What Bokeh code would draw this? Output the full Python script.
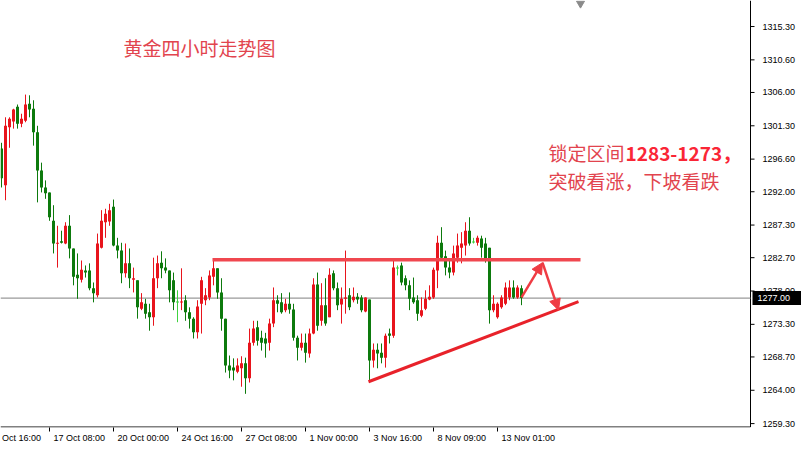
from bokeh.plotting import figure
from bokeh.models import (Range1d, FixedTicker, LinearAxis, Arrow, NormalHead,
                          ColumnDataSource)
from bokeh.core.properties import value
from bokeh.embed import file_html
from bokeh.resources import INLINE

# ---------------- data (XAUUSD, H4 bars) ----------------
opens = [
    1298.1, 1292.9, 1301.1, 1301.9, 1304.0, 1301.6, 1302.0, 1304.4, 1303.7, 1300.4,
    1295.0, 1292.6, 1291.9, 1287.9, 1284.7, 1285.0, 1284.7, 1287.2, 1284.0, 1280.3,
    1279.6, 1280.9, 1280.9, 1278.4, 1277.4, 1284.1, 1287.7, 1287.8, 1289.9, 1284.4,
    1283.7, 1280.5, 1281.9, 1279.6, 1279.5, 1275.5, 1276.2, 1275.0, 1274.3, 1279.8,
    1282.0, 1281.3, 1280.9, 1279.5, 1276.45, 1276.4, 1276.7, 1275.0, 1274.1, 1272.2,
    1276.2, 1276.7, 1277.1, 1280.0, 1281.2, 1277.8, 1274.1, 1267.5, 1267.2, 1266.6,
    1267.1, 1267.8, 1265.7, 1270.7, 1272.9, 1271.4, 1271.3, 1270.7, 1273.4, 1276.7,
    1276.4, 1275.3, 1276.2, 1275.4, 1271.4, 1270.0, 1270.7, 1269.2, 1272.0, 1278.9,
    1273.8, 1276.0, 1274.3, 1280.5, 1278.4, 1276.1, 1276.9, 1277.4, 1276.7, 1277.2,
    1277.1, 1275.1, 1276.8, 1268.2, 1269.7, 1269.3, 1268.6, 1272.0, 1271.7, 1281.25,
    1281.6, 1279.8, 1278.8, 1277.1, 1276.7, 1274.5, 1275.5, 1276.8, 1277.1, 1280.9,
    1284.8, 1282.9, 1281.3, 1280.6, 1282.7, 1284.1, 1284.4, 1286.5, 1284.9, 1284.8,
    1285.4, 1284.7, 1284.1, 1275.3, 1274.3, 1275.7, 1276.2, 1277.1, 1278.5, 1277.1,
    1278.4]
highs = [
    1298.9, 1302.5, 1302.5, 1303.7, 1304.3, 1303.0, 1305.7, 1305.6, 1304.9, 1301.3,
    1296.1, 1293.6, 1291.9, 1290.1, 1287.2, 1286.5, 1287.7, 1288.7, 1284.0, 1283.3,
    1282.3, 1281.6, 1281.9, 1279.2, 1286.1, 1289.4, 1289.6, 1290.3, 1290.9, 1285.5,
    1284.8, 1284.7, 1284.0, 1281.3, 1279.5, 1277.7, 1276.9, 1276.2, 1282.7, 1283.0,
    1283.6, 1282.6, 1280.9, 1280.6, 1278.1, 1281.2, 1277.4, 1275.7, 1274.3, 1276.7,
    1280.0, 1278.4, 1280.9, 1282.6, 1281.2, 1279.8, 1274.1, 1268.9, 1268.5, 1268.5,
    1268.8, 1268.6, 1272.7, 1273.8, 1273.8, 1272.4, 1272.1, 1274.1, 1278.5, 1277.4,
    1277.7, 1276.9, 1277.8, 1276.2, 1271.7, 1272.0, 1272.0, 1272.7, 1279.8, 1280.6,
    1279.1, 1279.8, 1281.2, 1280.9, 1279.2, 1278.5, 1283.7, 1278.4, 1278.5, 1277.7,
    1277.4, 1277.1, 1276.8, 1270.6, 1270.6, 1270.6, 1272.0, 1272.7, 1282.3, 1281.6,
    1282.0, 1280.2, 1279.5, 1279.9, 1277.4, 1277.1, 1278.1, 1278.8, 1281.3, 1285.8,
    1287.0, 1283.7, 1282.3, 1284.4, 1286.1, 1286.3, 1287.7, 1288.4, 1285.5, 1285.8,
    1285.8, 1285.5, 1284.1, 1277.4, 1276.4, 1277.4, 1279.2, 1279.5, 1279.5, 1278.8,
    1278.8]
lows = [
    1292.6, 1290.8, 1298.2, 1300.9, 1300.9, 1301.1, 1301.8, 1302.5, 1298.5, 1290.5,
    1291.9, 1291.0, 1287.9, 1283.3, 1281.3, 1284.7, 1284.6, 1282.6, 1278.8, 1276.9,
    1279.2, 1279.9, 1278.1, 1276.4, 1277.1, 1284.0, 1285.5, 1287.2, 1284.3, 1282.6,
    1279.1, 1279.9, 1278.4, 1277.8, 1274.1, 1275.3, 1274.1, 1272.4, 1273.1, 1278.4,
    1279.8, 1280.5, 1276.4, 1275.3, 1273.6, 1275.3, 1273.8, 1272.7, 1271.3, 1271.3,
    1272.0, 1276.0, 1276.7, 1278.8, 1276.9, 1272.4, 1266.5, 1265.7, 1265.4, 1266.4,
    1264.5, 1263.5, 1265.1, 1270.3, 1270.3, 1269.6, 1268.6, 1269.6, 1272.9, 1275.0,
    1274.8, 1275.0, 1274.8, 1271.0, 1268.2, 1269.6, 1267.9, 1268.6, 1271.9, 1272.4,
    1273.1, 1273.1, 1274.3, 1278.1, 1275.3, 1273.4, 1274.8, 1275.3, 1276.4, 1276.2,
    1275.0, 1275.0, 1265.1, 1267.2, 1267.1, 1267.8, 1267.2, 1270.6, 1271.4, 1280.2,
    1278.8, 1278.1, 1275.3, 1276.2, 1273.8, 1274.3, 1275.3, 1276.7, 1276.9, 1278.4,
    1282.3, 1280.2, 1279.8, 1280.2, 1282.0, 1281.9, 1283.0, 1284.4, 1284.7, 1284.4,
    1282.7, 1282.0, 1273.4, 1275.0, 1274.1, 1275.5, 1276.0, 1276.7, 1276.9, 1276.9,
    1276.0]
closes = [
    1293.9, 1301.3, 1302.3, 1303.6, 1301.6, 1302.3, 1304.3, 1303.6, 1300.4, 1295.0,
    1292.6, 1291.8, 1288.4, 1284.7, 1284.8, 1284.8, 1287.2, 1284.0, 1280.0, 1279.8,
    1281.0, 1280.6, 1278.4, 1277.7, 1284.7, 1287.9, 1288.9, 1289.4, 1284.4, 1283.7,
    1280.5, 1281.9, 1279.8, 1279.8, 1275.7, 1276.4, 1274.8, 1274.3, 1279.8, 1281.9,
    1281.2, 1280.9, 1278.1, 1276.4, 1276.45, 1276.5, 1275.0, 1274.1, 1272.2, 1275.8,
    1279.5, 1277.4, 1280.2, 1281.2, 1277.8, 1274.1, 1267.5, 1266.8, 1266.8, 1267.5,
    1267.8, 1265.7, 1270.7, 1272.7, 1271.0, 1270.7, 1270.6, 1273.4, 1276.7, 1276.2,
    1275.0, 1276.2, 1275.4, 1271.4, 1270.0, 1270.7, 1269.3, 1272.0, 1278.9, 1273.1,
    1276.0, 1273.4, 1280.3, 1278.4, 1276.0, 1276.9, 1277.1, 1275.7, 1277.2, 1276.8,
    1275.3, 1277.1, 1268.2, 1269.7, 1269.2, 1268.6, 1271.7, 1271.7, 1281.3, 1281.25,
    1279.2, 1278.8, 1276.9, 1276.4, 1274.8, 1275.3, 1276.9, 1277.2, 1281.0, 1284.8,
    1282.7, 1281.3, 1280.6, 1283.3, 1284.4, 1284.7, 1286.5, 1284.7, 1284.9, 1285.5,
    1284.1, 1282.6, 1275.3, 1276.2, 1276.2, 1277.1, 1278.5, 1278.5, 1277.1, 1278.5,
    1277.0]

price_ticks = [1315.30, 1310.60, 1306.00, 1301.30, 1296.60, 1292.00, 1287.30,
               1282.70, 1278.00, 1273.30, 1268.70, 1264.00, 1259.30]
time_tick_bars = [-3, 13, 29, 45, 61, 77, 93, 109, 125]
time_labels = ["16 Oct 16:00", "17 Oct 08:00", "20 Oct 00:00", "24 Oct 16:00",
               "27 Oct 08:00", "1 Nov 00:00", "3 Nov 16:00", "8 Nov 09:00", "13 Nov 01:00"]
last_price = 1277.00

resistance_level = 1282.4
resistance_from, resistance_to = 53.75, 145.75
trend_x = [92.75, 145.25]
trend_y = [1265.2, 1276.5]
arrow_up = (131.0, 1277.1, 136.25, 1282.0)
arrow_down = (136.25, 1282.0, 140.25, 1275.3)
shift_marker_bar = 145.75

title_text = "黄金四小时走势图"
title_pos = (31.5, 1312.4)
note_line1 = "锁定区间"
note_numbers = "1283-1273，"
note_line2 = "突破看涨，下坡看跌"
note_pos = (137.75, 1297.5, 1293.6)

# ---------------- layout / styling ----------------
UP, DOWN, FLAT = "#e8141c", "#0d7a0d", "#3fd23f"
AXIS_FONT = "Liberation Sans"
CJK_FONT = "Noto Sans CJK SC"
W, FH = 801, 427
x0 = 0.75
px_per_bar = 4.0
x1 = x0 + W / px_per_bar
y0, y1 = 1258.75, 1318.97
px_per_price = FH / (y1 - y0)
scale_x = x0 + 750 / px_per_bar          # price-scale border (right edge of chart area)

idx = list(range(1, len(opens) + 1))
cols, tops, bots = [], [], []
for o, c in zip(opens, closes):
    cols.append(UP if c > o else (DOWN if c < o else FLAT))
    t, b = max(o, c), min(o, c)
    if t - b < 0.14:
        m = (t + b) / 2
        t, b = m + 0.07, m - 0.07
    tops.append(t)
    bots.append(b)

src = ColumnDataSource(dict(x=idx, o=opens, h=highs, l=lows, c=closes,
                            top=tops, bot=bots, col=cols))

p = figure(frame_width=W, frame_height=FH, x_range=Range1d(x0, x1),
           y_range=Range1d(y0, y1), y_axis_location=None, x_axis_location=None,
           output_backend="svg", toolbar_location=None,
           min_border_left=0, min_border_top=0, min_border_right=0,
           min_border_bottom=22, background_fill_color="white",
           border_fill_color="white")
p.outline_line_color = None
p.grid.visible = False
for g in p.renderers:
    pass

# bottom axis: tick marks only
ax_t = LinearAxis(ticker=FixedTicker(ticks=time_tick_bars),
                  major_label_overrides={t: "" for t in time_tick_bars},
                  major_tick_out=4, major_tick_in=0, minor_tick_out=0, minor_tick_in=0,
                  major_label_standoff=0, major_label_text_font_size="1px",
                  axis_line_color=None, major_tick_line_color="black")
p.add_layout(ax_t, "below")

# bottom axis labels, drawn to the right of each tick (MT4 style); a label that
# starts left of the window shows only its visible words
cw = {" ": .278, ":": .278, "O": .778, "c": .5, "t": .278, "N": .722, "o": .556, "v": .5}
def text_w(s):
    return sum(cw.get(ch, .556) for ch in s) * 9

centers, shown = [], []
for t, lab in zip(time_tick_bars, time_labels):
    start_px = (t - x0) * px_per_bar + 4
    words = lab.split(" ")
    while start_px < 0 and len(words) > 1:
        start_px += text_w(words[0] + " ")
        words = words[1:]
    txt = " ".join(words)
    centers.append(round(x0 + (start_px + text_w(txt) / 2) / px_per_bar, 3))
    shown.append(txt)
ax_l = LinearAxis(ticker=FixedTicker(ticks=centers),
                  major_label_overrides={c: lab for c, lab in zip(centers, shown)},
                  major_tick_out=0, major_tick_in=0, minor_tick_out=0, minor_tick_in=0,
                  major_tick_line_color=None, minor_tick_line_color=None,
                  axis_line_color=None, major_label_standoff=1,
                  major_label_text_font=AXIS_FONT, major_label_text_font_size="9px",
                  major_label_text_color="black")
p.add_layout(ax_l, "below")

# chart border (bottom and right) and the price scale
bottom_line_y = y0 + 0.5 / px_per_price
p.segment(x0=[x0], y0=[bottom_line_y], x1=[scale_x], y1=[bottom_line_y],
          line_color="black", line_width=1)
p.segment(x0=[scale_x], y0=[bottom_line_y], x1=[scale_x], y1=[y1],
          line_color="black", line_width=1)
p.segment(x0=[scale_x] * len(price_ticks), y0=price_ticks,
          x1=[scale_x + 4 / px_per_bar] * len(price_ticks), y1=price_ticks,
          line_color="black", line_width=1)
p.text(x=[scale_x] * len(price_ticks), y=price_ticks,
       text=["%.2f" % v for v in price_ticks], x_offset=12,
       text_font=value(AXIS_FONT), text_font_size="9px", text_color="black",
       text_baseline="middle", text_align="left")

# current price line and its box on the scale
p.segment(x0=[x0], y0=[last_price], x1=[scale_x], y1=[last_price],
          line_color="#808080", line_width=1)
p.quad(left=[scale_x + 2 / px_per_bar], right=[x1],
       top=[last_price + 7 / px_per_price], bottom=[last_price - 7 / px_per_price],
       fill_color="black", line_color=None)
p.text(x=[scale_x], y=[last_price], text=["%.2f" % last_price], x_offset=7,
       text_font=value(AXIS_FONT), text_font_size="9px", text_color="white",
       text_baseline="middle", text_align="left")

# chart-shift marker
p.scatter(x=[shift_marker_bar], y=[y1 - 3 / px_per_price], marker="inverted_triangle",
          size=8, fill_color="#8a8a8a", line_color="#8a8a8a")

# candles
p.segment(x0="x", y0="l", x1="x", y1="h", line_color="col", line_width=1, source=src)
p.vbar(x="x", top="top", bottom="bot", width=0.75, fill_color="col",
       line_color=None, source=src)

# resistance and trend lines
p.segment(x0=[resistance_from], y0=[resistance_level], x1=[resistance_to],
          y1=[resistance_level], line_color="#f0474f", line_width=3.5)
p.line(x=trend_x, y=trend_y, line_color="#e8222a", line_width=3)

ARC = "#ef3b43"
for (xs, ys, xe, ye) in (arrow_up, arrow_down):
    p.add_layout(Arrow(end=NormalHead(size=11, fill_color=ARC, line_color=ARC),
                       x_start=xs, y_start=ys, x_end=xe, y_end=ye,
                       line_color=ARC, line_width=2.5))

# texts
p.text(x=[title_pos[0]], y=[title_pos[1]], text=[title_text],
       text_font=value(CJK_FONT), text_font_size="19px", text_color="#e2444e",
       text_baseline="middle", text_align="left")
p.text(x=[note_pos[0]], y=[note_pos[1]], text=[note_line1],
       text_font=value(CJK_FONT), text_font_size="19px", text_color="#e2444e",
       text_baseline="middle", text_align="left")
p.text(x=[note_pos[0]], y=[note_pos[1]], text=[note_numbers], x_offset=77,
       text_font=value(CJK_FONT), text_font_size="19px", text_font_style="bold",
       text_color="#fa2636", text_baseline="middle", text_align="left")
p.text(x=[note_pos[0]], y=[note_pos[2]], text=[note_line2],
       text_font=value(CJK_FONT), text_font_size="19px", text_color="#e2444e",
       text_baseline="middle", text_align="left")

html = file_html(p, INLINE, title="黄金四小时走势图")
open("out.html", "w", encoding="utf-8").write(html)
